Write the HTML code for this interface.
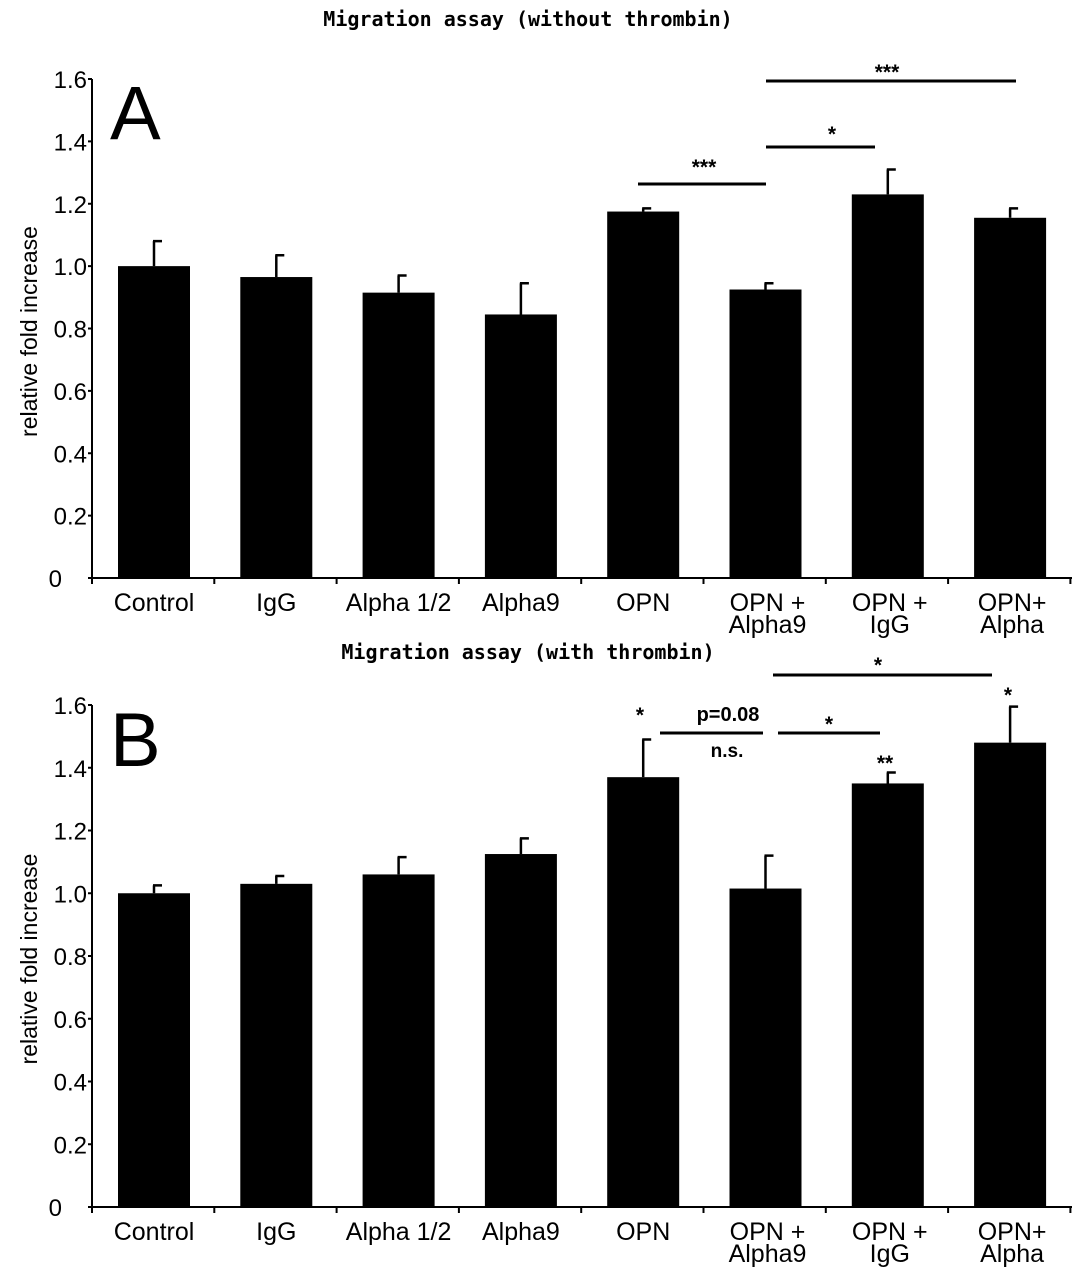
<!DOCTYPE html>
<html><head><meta charset="utf-8"><style>
body{margin:0;background:#fff}
svg text{font-family:"Liberation Sans",sans-serif}
.t{font-family:"DejaVu Sans Mono","Liberation Mono",monospace;font-weight:bold;font-size:20px}
</style></head><body>
<svg id="c" width="1087" height="1281" xmlns="http://www.w3.org/2000/svg"></svg>
<script>
const categories=["Control","IgG","Alpha 1/2","Alpha9","OPN","OPN +|Alpha9","OPN +|IgG","OPN+|Alpha"];
const valuesA=[1.0,0.965,0.915,0.845,1.175,0.925,1.23,1.155];
const errA=[1.08,1.035,0.97,0.945,1.185,0.945,1.31,1.185];
const valuesB=[1.0,1.03,1.06,1.125,1.37,1.015,1.35,1.48];
const errB=[1.025,1.055,1.115,1.175,1.49,1.12,1.385,1.595];
const ticks=["0","0.2","0.4","0.6","0.8","1.0","1.2","1.4","1.6"];
const NS="http://www.w3.org/2000/svg",svg=document.getElementById('c');
function mk(t,a,txt){const e=document.createElementNS(NS,t);for(const k in a)e.setAttribute(k,a[k]);if(txt!=null)e.textContent=txt;svg.appendChild(e);return e;}
function xc(i){return 154+i*122.3;}
function panel(y0,y16,vals,errs,letter,title,titleY,name){
  const ys=v=>y0-(y0-y16)*v/1.6;
  let t=mk('text',{x:528,y:titleY,'text-anchor':'middle',class:'t'},title);
  
  t=mk('text',{x:110,y:ys(1.4)-2,'font-size':76},letter);
  
  let l=mk('line',{x1:92,y1:y16,x2:92,y2:y0,stroke:'#000','stroke-width':2});
  
  l=mk('line',{x1:91,y1:y0,x2:1072,y2:y0,stroke:'#000','stroke-width':2});
  
  ticks.forEach((s,i)=>{const v=parseFloat(s),y=ys(v);
    mk('line',{x1:88,y1:y,x2:92,y2:y,stroke:'#000','stroke-width':2});
    const tt=mk('text',{x:s==="0"?62:87,y:y+9,'text-anchor':'end','font-size':24},s);
    });
  for(let i=0;i<=8;i++){const x=92+i*122.3;mk('line',{x1:x,y1:y0,x2:x,y2:y0+6,stroke:'#000','stroke-width':2});}
  const yl=mk('text',{transform:`translate(37,${(y0+y16)/2+3}) rotate(-90)`,'text-anchor':'middle','font-size':23},'relative fold increase');
  
  vals.forEach((v,i)=>{const x=xc(i);
    const r=mk('rect',{x:x-36,y:ys(v),width:72,height:y0-ys(v),fill:'#000'});
    
    const e=mk('path',{d:`M${x} ${ys(v)}V${ys(errs[i])}M${x-1} ${ys(errs[i])}H${x+8}`,stroke:'#000','stroke-width':2.5,fill:'none'});
    
    const parts=categories[i].split('|');
    parts.forEach((p,j)=>{const tx=mk('text',{x:x+(parts.length>1?2:0),y:y0+33+j*22,'text-anchor':'middle','font-size':25},p);
      });
  });
}
panel(578,79,valuesA,errA,'A','Migration assay (without thrombin)',26,'panel-a');
panel(1207,705,valuesB,errB,'B','Migration assay (with thrombin)',659,'panel-b');
function sig(x1,x2,y,lab,lx,ly,fs){
  if(x1!=null){const l=mk('line',{x1:x1,y1:y,x2:x2,y2:y,stroke:'#000','stroke-width':3});
    }
  const t=mk('text',{x:lx,y:ly,'text-anchor':'middle','font-size':fs||21,'font-weight':'bold'},lab);
  
}
sig(638,766,184,'***',704,174);
sig(766,875,147,'*',832,141);
sig(766,1016,81,'***',887,79);
sig(773,992,675,'*',878,672);
sig(660,763,733,'p=0.08',728,721,20);
sig(null,0,0,'n.s.',727,757,19);
sig(778,880,733,'*',829,731);
sig(null,0,0,'*',640,722);
sig(null,0,0,'**',885,770);
sig(null,0,0,'*',1008,702);
</script>
</body></html>
